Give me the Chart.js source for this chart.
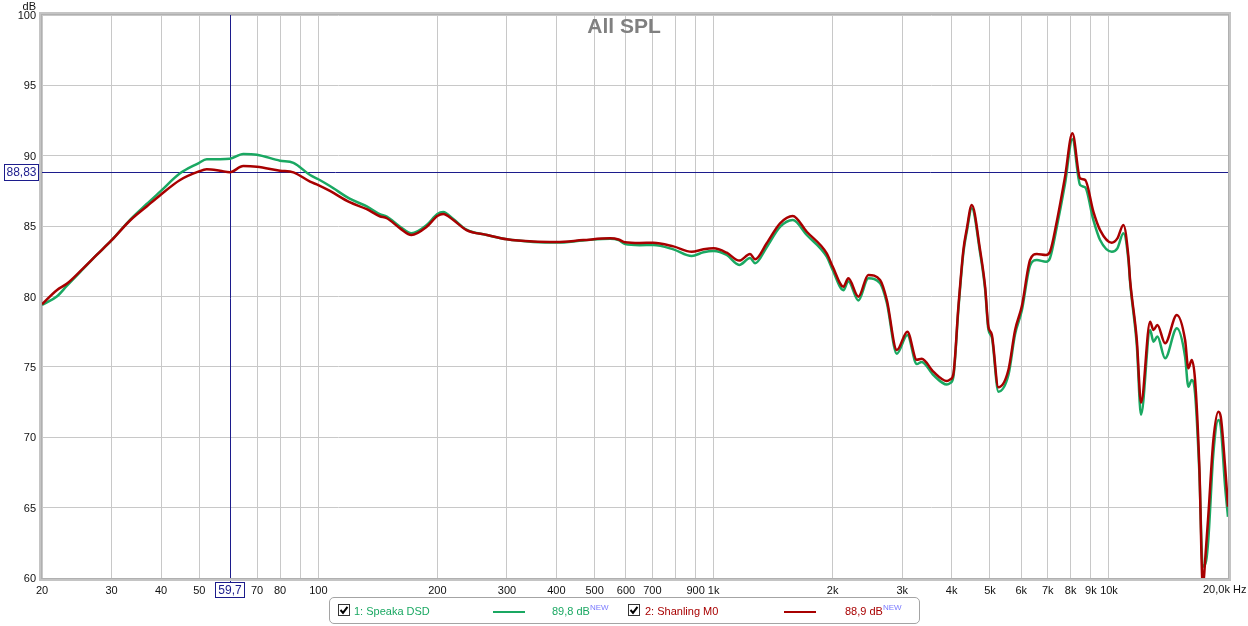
<!DOCTYPE html>
<html>
<head>
<meta charset="utf-8">
<script src="https://cdn.jsdelivr.net/npm/chart.js@4.4.1/dist/chart.umd.min.js"></script>
<style>
  html, body { margin: 0; padding: 0; background: #fff; }
  #wrap { position: relative; width: 1248px; height: 626px; font-family: "Liberation Sans", Arial, sans-serif; font-size: 11px; }
  #chart { position: absolute; left: 0; top: 0; }
  .legend { position: absolute; left: 329px; top: 597px; width: 591px; height: 27px; box-sizing: border-box;
            border: 1px solid #a4a4a4; border-radius: 5px; }
  .abs { position: absolute; white-space: nowrap; }
  .txt { top: 604px; line-height: 14px; }
  .swatch { top: 611px; height: 2px; width: 32px; }
  .box { top: 604px; width: 12px; height: 12px; }
  sup { font-size: 8px; color: #7a7aff; vertical-align: 0; position: relative; top: -5px; }
</style>
</head>
<body>
<div id="wrap">
  <canvas id="chart" width="1248" height="626"></canvas>
  <div class="legend"></div>
  <svg class="abs box" style="left:338px" viewBox="0 0 12 12"><rect x="0.5" y="0.5" width="11" height="11" fill="#fff" stroke="#333"/><path d="M2.5 6 L5 8.8 L9.5 2.8" fill="none" stroke="#000" stroke-width="2"/></svg>
  <div class="abs txt" style="left:354px;color:#1aa862">1: Speaka DSD</div>
  <div class="abs swatch" style="left:493px;background:#1aa862"></div>
  <div class="abs txt" style="left:552px;color:#1aa862">89,8 dB<sup>NEW</sup></div>
  <svg class="abs box" style="left:628px" viewBox="0 0 12 12"><rect x="0.5" y="0.5" width="11" height="11" fill="#fff" stroke="#333"/><path d="M2.5 6 L5 8.8 L9.5 2.8" fill="none" stroke="#000" stroke-width="2"/></svg>
  <div class="abs txt" style="left:645px;color:#a80000">2: Shanling M0</div>
  <div class="abs swatch" style="left:784px;background:#a80000"></div>
  <div class="abs txt" style="left:845px;color:#a80000">88,9 dB<sup>NEW</sup></div>
</div>
<script>
// === DATA ===
const freqs = [
  20, 21.8, 23.1, 25, 27.5, 30, 33.4, 36.8, 39.8, 44.7,
  49.7, 52.2, 56.4, 59.7, 64.6, 69.9, 80, 86.5, 95.3, 100,
  107, 120, 132.6, 143, 149, 161, 172, 188, 200, 207,
  219.5, 237, 267, 300, 350, 401, 468, 547, 575, 597,
  650, 704, 791, 880, 942, 1000, 1079, 1161, 1236, 1273,
  1362, 1472, 1585, 1720, 1932, 2000, 2129, 2191, 2323, 2462,
  2636, 2742, 2906, 3090, 3264, 3360, 3596, 3888, 3964, 4040,
  4160, 4282, 4368, 4497, 4720, 4860, 4954, 5053, 5250, 5566,
  5788, 6018, 6316, 6568, 6932, 7092, 7374, 7740, 8080, 8450,
  8700, 9130, 9494, 10164, 10500, 10876, 11197, 11308, 11760, 12050,
  12706, 12954, 13258, 13866, 14846, 15578, 15876, 16194, 16508, 16926,
  17266, 17602, 17840, 18366, 18908, 19174, 19666, 20000
];
const speakaDb = [
  79.4, 80.0, 80.75, 81.75, 82.95, 84.0, 85.45, 86.57, 87.45, 88.75,
  89.46, 89.75, 89.75, 89.78, 90.12, 90.07, 89.65, 89.5, 88.63, 88.33,
  87.85, 86.95, 86.4, 85.85, 85.67, 84.96, 84.49, 85.08, 85.86, 86.0,
  85.5, 84.75, 84.37, 84.06, 83.88, 83.83, 83.98, 84.1, 84.0, 83.72,
  83.65, 83.66, 83.35, 82.88, 83.14, 83.23, 82.95, 82.24, 82.73, 82.36,
  83.5, 84.94, 85.43, 84.37, 82.83, 81.88, 80.45, 81.08, 79.72, 81.29,
  80.94, 79.54, 75.93, 77.26, 75.2, 75.35, 74.42, 73.75, 73.85, 74.3,
  79.1, 83.1, 84.6, 86.27, 83.1, 80.5, 77.65, 77.1, 73.24, 74.42,
  77.33, 79.0, 82.2, 82.59, 82.47, 82.73, 84.9, 88.0, 91.17, 87.92,
  87.76, 85.43, 84.01, 83.18, 83.42, 84.49, 82.59, 81.0, 76.5, 71.6,
  77.62, 76.79, 77.15, 75.61, 77.74, 75.72, 73.59, 74.07, 73.12, 67.5,
  60.8, 61.2, 62.8, 68.86, 71.23, 70.75, 66.49, 64.35
];
const shanlingDb = [
  79.45, 80.45, 80.9, 81.8, 82.95, 84.0, 85.4, 86.4, 87.2, 88.28,
  88.87, 89.04, 88.94, 88.83, 89.27, 89.22, 88.94, 88.82, 88.16, 87.92,
  87.5, 86.7, 86.2, 85.7, 85.56, 84.84, 84.37, 84.96, 85.72, 85.86,
  85.43, 84.72, 84.37, 84.06, 83.9, 83.87, 84.01, 84.13, 84.05, 83.85,
  83.8, 83.82, 83.56, 83.18, 83.35, 83.42, 83.11, 82.55, 83.02, 82.64,
  83.78, 85.2, 85.72, 84.6, 83.07, 82.12, 80.7, 81.29, 79.99, 81.53,
  81.17, 79.75, 76.2, 77.5, 75.5, 75.58, 74.66, 74.0, 74.1, 74.5,
  79.28, 83.3, 84.8, 86.5, 83.3, 80.7, 77.85, 77.3, 73.55, 74.78,
  77.62, 79.3, 82.6, 83.02, 82.95, 83.18, 85.3, 88.5, 91.6, 88.4,
  88.28, 86.03, 84.72, 83.82, 84.13, 85.08, 82.83, 81.17, 76.91, 72.45,
  78.21, 77.62, 77.98, 76.67, 78.69, 76.91, 74.9, 75.49, 74.07, 67.91,
  59.5, 62.2, 64.5, 69.8, 71.82, 71.46, 67.91, 65.07
];
const xTickValues = [20, 30, 40, 50, 60, 70, 80, 90, 100, 200, 300, 400, 500, 600, 700, 800, 900,
  1000, 2000, 3000, 4000, 5000, 6000, 7000, 8000, 9000, 10000, 20000];
const xTickLabels = ["20", "30", "40", "50", "", "70", "80", "", "100", "200", "300", "400", "500", "600", "700", "", "900",
  "1k", "2k", "3k", "4k", "5k", "6k", "7k", "8k", "9k", "10k", ""];
const yTickValues = [60, 65, 70, 75, 80, 85, 90, 95, 100];
const cursorHz = 59.7, cursorDb = 88.83;
const cursorHzLabel = "59,7", cursorDbLabel = "88,83";

const FONT = "'Liberation Sans', Arial, sans-serif";
const GREEN = "#1aa862";
const RED = "#a80000";
const CURSOR = "#1c1c8c";

function toPoints(ys) {
  return freqs.map((f, i) => ({ x: f, y: ys[i] }));
}

// === DRAWING EXTRAS (frame, cursor, title) ===
const extras = {
  id: "extras",
  beforeDatasetsDraw(chart) {
    const { ctx, chartArea: a, scales: { x, y } } = chart;
    const cx = Math.round(x.getPixelForValue(cursorHz)) + 0.5;
    const cy = Math.round(y.getPixelForValue(cursorDb)) + 0.5;
    ctx.save();
    ctx.strokeStyle = CURSOR;
    ctx.lineWidth = 1;
    ctx.beginPath();
    ctx.moveTo(cx, a.top);
    ctx.lineTo(cx, 582);
    ctx.moveTo(38, cy);
    ctx.lineTo(a.right, cy);
    ctx.stroke();
    ctx.restore();
  },
  afterDraw(chart) {
    const { ctx, chartArea: a, scales: { x, y } } = chart;
    ctx.save();
    // frame
    ctx.strokeStyle = "#c4c4c4";
    ctx.lineWidth = 3;
    ctx.strokeRect(a.left - 1.5, a.top - 1.5, a.right - a.left + 3, a.bottom - a.top + 3);
    ctx.strokeStyle = "#b0b0b0";
    ctx.lineWidth = 1;
    ctx.strokeRect(a.left - 0.5, a.top - 0.5, a.right - a.left + 1, a.bottom - a.top + 1);

    // title
    ctx.fillStyle = "#808080";
    ctx.font = "bold 21px " + FONT;
    ctx.textAlign = "center";
    ctx.textBaseline = "middle";
    ctx.fillText("All SPL", 624, 27);

    // axis units
    ctx.fillStyle = "#111";
    ctx.font = "11px " + FONT;
    ctx.textAlign = "right";
    ctx.textBaseline = "alphabetic";
    ctx.fillText("dB", 36, 10);
    ctx.textAlign = "left";
    ctx.textBaseline = "middle";
    ctx.fillText("20,0k Hz", 1203, 590);

    // cursor labels
    const cx = Math.round(x.getPixelForValue(cursorHz));
    const cy = Math.round(y.getPixelForValue(cursorDb));
    ctx.font = "12px " + FONT;
    ctx.fillStyle = "#fff";
    ctx.strokeStyle = CURSOR;
    ctx.lineWidth = 1;
    ctx.fillRect(4, cy - 8, 34, 16);
    ctx.strokeRect(4.5, cy - 7.5, 34, 16);
    ctx.fillRect(cx - 15, 582, 29, 15);
    ctx.strokeRect(cx - 14.5, 582.5, 29, 15);
    ctx.fillStyle = CURSOR;
    ctx.textAlign = "center";
    ctx.fillText(cursorDbLabel, 21.5, cy + 1);
    ctx.fillText(cursorHzLabel, cx, 590.5);
    ctx.restore();
  }
};

// === CHART ===
const ctx = document.getElementById("chart").getContext("2d");
new Chart(ctx, {
  type: "line",
  data: {
    datasets: [
      {
        label: "1: Speaka DSD",
        data: toPoints(speakaDb),
        borderColor: GREEN,
        borderWidth: 2.5,
        pointRadius: 0,
        cubicInterpolationMode: "monotone",
        order: 2
      },
      {
        label: "2: Shanling M0",
        data: toPoints(shanlingDb),
        borderColor: RED,
        borderWidth: 2.5,
        pointRadius: 0,
        cubicInterpolationMode: "monotone",
        order: 1
      }
    ]
  },
  options: {
    responsive: false,
    animation: false,
    events: [],
    layout: { padding: { left: 0, top: 15, right: 20, bottom: 0 }, autoPadding: false },
    plugins: { legend: { display: false }, tooltip: { enabled: false }, title: { display: false } },
    scales: {
      x: {
        type: "logarithmic",
        min: 20,
        max: 20000,
        afterFit: s => { s.height = 48; },
        afterBuildTicks: s => { s.ticks = xTickValues.map(v => ({ value: v })); },
        grid: { color: "#c8c8c8", drawTicks: false },
        border: { display: false },
        ticks: {
          autoSkip: false,
          maxRotation: 0,
          padding: 6,
          color: "#111",
          font: { family: FONT, size: 11 },
          callback: (v, i) => xTickLabels[i]
        }
      },
      y: {
        min: 60,
        max: 100,
        afterFit: s => { s.width = 42; },
        afterBuildTicks: s => { s.ticks = yTickValues.map(v => ({ value: v })); },
        grid: { color: "#c8c8c8", drawTicks: false },
        border: { display: false },
        ticks: {
          padding: 6,
          labelOffset: 1,
          color: "#111",
          font: { family: FONT, size: 11 }
        }
      }
    }
  },
  plugins: [extras]
});
</script>
</body>
</html>
